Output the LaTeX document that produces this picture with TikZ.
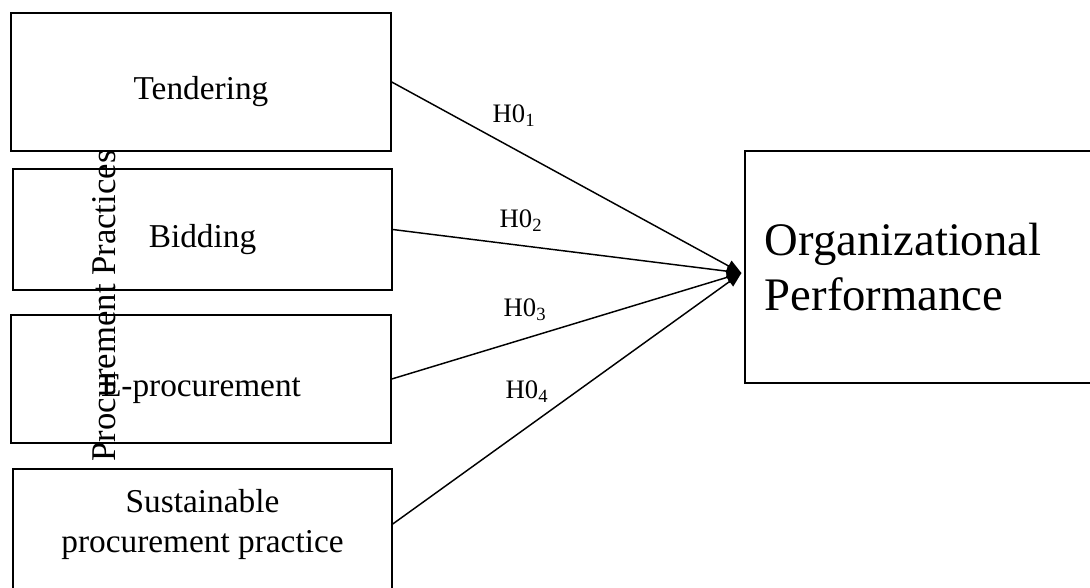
\documentclass[tikz,border=0pt]{standalone}
\usepackage{fontspec}
\setmainfont{Liberation Serif}
\usetikzlibrary{arrows.meta,positioning}

\tikzset{
  box/.style={draw, line width=1.1pt, inner sep=0pt, align=center,
    text height=32pt, text depth=5.5pt, font=\fontsize{25}{30}\selectfont},
  hyp/.style={inner sep=1pt, font=\fontsize{20}{24}\selectfont},
  arr/.style={line width=1.1pt, -{Triangle[length=11pt,width=9pt]}}
}

\begin{document}
\begin{tikzpicture}[x=0.75pt,y=-0.75pt]
\useasboundingbox (0,0) rectangle (1090,588);
\clip (0,0) rectangle (1090,588);

% ---------- practices ----------
\node[box, minimum width=285pt, minimum height=103.5pt] (tend) at (201,82) {Tendering};
\node[box, minimum width=284.25pt, minimum height=90.75pt] (bid) at (202.5,229.5) {Bidding};
\node[box, minimum width=285pt, minimum height=96pt] (eproc) at (201,379) {E-procurement};
\node[box, minimum width=284.25pt, minimum height=113.25pt] (sust) at (202.5,544.5) {};
\node[align=center, inner sep=0pt, font=\fontsize{25}{30}\selectfont] (sustlbl) at (202.5,524)
  {Sustainable\\procurement practice};

\node[rotate=90, inner sep=0pt, font=\fontsize{26}{30}\selectfont] (group) at (104,306)
  {Procurement Practices};

% ---------- outcome ----------
\node[draw, line width=1.1pt, text width=250pt, inner xsep=15pt, inner ysep=0pt,
  minimum height=174pt, align=left, font=\fontsize{35}{41}\selectfont]
  (org) at (931.5,267) {Organizational\\Performance};
\coordinate (tip) at ([xshift=-2pt,yshift=-4.5pt]org.west);

% ---------- hypotheses ----------
\draw[arr] (tend.east) -- (tip);
\draw[arr] (bid.east) -- (tip);
\draw[arr] (eproc.east) -- (tip);
\draw[arr] (sust.east |- sustlbl.center) -- (tip);

\node[hyp] (h1) at (514,116) {H0\textsubscript{1}};
\node[hyp] (h2) at (521,221) {H0\textsubscript{2}};
\node[hyp] (h3) at (525,310) {H0\textsubscript{3}};
\node[hyp] (h4) at (527,392) {H0\textsubscript{4}};

\end{tikzpicture}
\end{document}
